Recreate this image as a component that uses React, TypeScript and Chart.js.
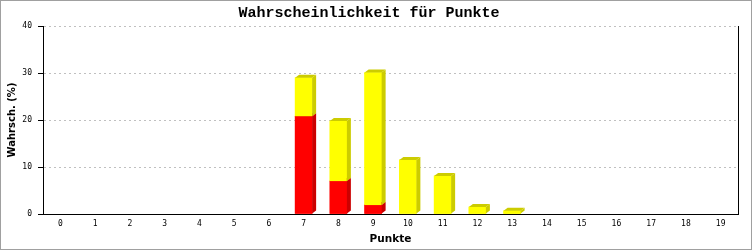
import React, { useEffect, useRef } from "react";
import { Chart, registerables } from "chart.js";

Chart.register(...registerables);

const categories = ["0","1","2","3","4","5","6","7","8","9","10","11","12","13","14","15","16","17","18","19"];
const redValues = [null, null, null, null, null, null, null, 20.8, 7.0, 1.9, null, null, null, null, null, null, null, null, null, null];
const yellowValues = [null, null, null, null, null, null, null, 8.2, 12.8, 28.2, 11.5, 8.1, 1.5, 0.7, null, null, null, null, null, null];
const yTicks = [0, 10, 20, 30, 40];

const titleText = "Wahrscheinlichkeit für Punkte";
const xTitle = "Punkte";
const yTitle = "Wahrsch. (%)";

const frontColors = ["#ff0000", "#ffff00"];
const sideColors = ["#cc0000", "#cccc00"];

const depthPlugin = {
  id: "depth3d",
  beforeDraw(chart: any) {
    const ctx = chart.ctx;
    ctx.save();
    ctx.fillStyle = "#ffffff";
    ctx.fillRect(0, 0, chart.width, chart.height);
    ctx.restore();
  },
  afterDatasetsDraw(chart: any) {
    const ctx = chart.ctx;
    const dx = 4;
    const dy = 3;
    ctx.save();
    chart.data.datasets.forEach((_ds: any, i: number) => {
      const meta = chart.getDatasetMeta(i);
      meta.data.forEach((bar: any) => {
        const p = bar.getProps(["x", "y", "base", "width"], true);
        if (p.y == null || isNaN(p.y) || Math.abs(p.base - p.y) < 0.5) return;
        const left = p.x - p.width / 2;
        const right = p.x + p.width / 2;
        const top = Math.min(p.y, p.base);
        const bottom = Math.max(p.y, p.base);
        ctx.fillStyle = frontColors[i];
        ctx.fillRect(left, top, right - left, bottom - top);
        ctx.fillStyle = sideColors[i];
        ctx.beginPath();
        ctx.moveTo(right, top);
        ctx.lineTo(right + dx, top - dy);
        ctx.lineTo(right + dx, bottom - dy);
        ctx.lineTo(right, bottom);
        ctx.closePath();
        ctx.fill();
        ctx.beginPath();
        ctx.moveTo(left, top);
        ctx.lineTo(left + dx, top - dy);
        ctx.lineTo(right + dx, top - dy);
        ctx.lineTo(right, top);
        ctx.closePath();
        ctx.fill();
      });
    });
    ctx.restore();
  },
  afterDraw(chart: any) {
    const ctx = chart.ctx;
    const a = chart.chartArea;
    ctx.save();
    ctx.strokeStyle = "#000000";
    ctx.lineWidth = 1;
    ctx.beginPath();
    const rx = Math.round(a.right) + 0.5;
    ctx.moveTo(rx, a.top);
    ctx.lineTo(rx, a.bottom + 0.5);
    ctx.stroke();
    ctx.strokeStyle = "#a0a0a0";
    ctx.strokeRect(0.5, 0.5, 751, 249);
    ctx.restore();
  },
};

export default function App() {
  const ref = useRef<HTMLCanvasElement | null>(null);

  useEffect(() => {
    if (!ref.current) return;
    const chart = new Chart(ref.current, {
      type: "bar",
      data: {
        labels: categories,
        datasets: [
          {
            label: "rot",
            data: redValues,
            backgroundColor: frontColors[0],
            borderWidth: 0,
            barThickness: 17,
          },
          {
            label: "gelb",
            data: yellowValues,
            backgroundColor: frontColors[1],
            borderWidth: 0,
            barThickness: 17,
          },
        ],
      },
      options: {
        animation: false,
        responsive: false,
        maintainAspectRatio: false,
        layout: { padding: { left: 0, right: 15, top: 0, bottom: 0 } },
        plugins: {
          legend: { display: false },
          tooltip: { enabled: false },
          title: {
            display: true,
            text: titleText,
            color: "#000000",
            font: { family: "Liberation Mono", size: 15, weight: "bold" },
            padding: { top: 4, bottom: 4 },
          },
        },
        scales: {
          x: {
            type: "category",
            stacked: true,
            offset: true,
            afterFit: (s: any) => {
              s.height = 36;
            },
            grid: { display: true, drawOnChartArea: false, drawTicks: false },
            border: { display: true, color: "#000000", width: 1 },
            ticks: {
              color: "#000000",
              font: { family: "DejaVu Sans Mono", size: 8 },
              padding: 5,
              maxRotation: 0,
              autoSkip: false,
            },
            title: {
              display: true,
              text: xTitle,
              color: "#000000",
              font: { family: "DejaVu Sans", size: 10.5, weight: "bold" },
              padding: { top: 0, bottom: 4 },
            },
          },
          y: {
            stacked: true,
            min: 0,
            max: 40,
            afterFit: (s: any) => {
              s.width = 43;
            },
            afterBuildTicks: (s: any) => {
              s.ticks = yTicks.map((v) => ({ value: v }));
            },
            grid: {
              color: "#c0c0c0",
              tickColor: "#000000",
              tickLength: 5,
              tickBorderDash: [],
              drawTicks: true,
            },
            border: { display: true, color: "#000000", width: 1, dash: [2, 3] },
            ticks: {
              color: "#000000",
              font: { family: "DejaVu Sans Mono", size: 8 },
              padding: 6,
            },
            title: {
              display: true,
              text: yTitle,
              color: "#000000",
              font: { family: "DejaVu Sans", size: 10, weight: "bold" },
              padding: { top: 6, bottom: 0 },
            },
          },
        },
      },
      plugins: [depthPlugin],
    } as any);
    return () => chart.destroy();
  }, []);

  return (
    <div style={{ position: "fixed", left: 0, top: 0, width: 753, height: 250, background: "#fff" }}>
      <canvas ref={ref} width={753} height={250} style={{ display: "block", width: 753, height: 250 }} />
    </div>
  );
}
